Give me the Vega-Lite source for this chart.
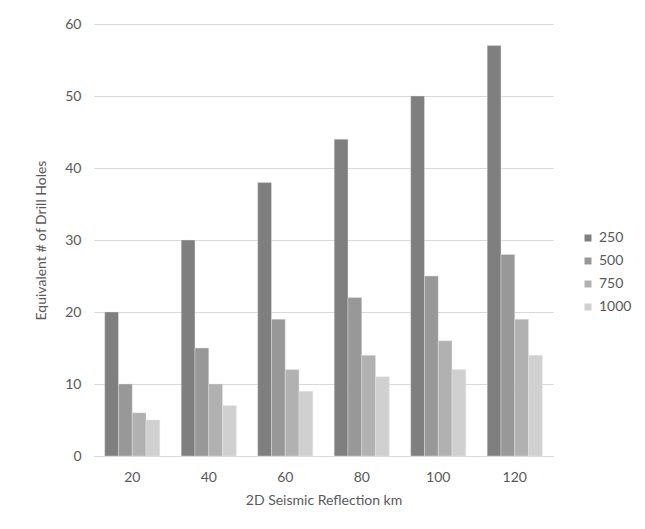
{
  "$schema": "https://vega.github.io/schema/vega-lite/v6.json",
  "autosize": {"type": "none"},
  "width": 459,
  "height": 432,
  "padding": {"left": 94, "top": 24, "right": 92, "bottom": 73},
  "background": "white",
  "data": {"values": [
    {"km": 20, "series": "250", "holes": 20}, {"km": 20, "series": "500", "holes": 10}, {"km": 20, "series": "750", "holes": 6}, {"km": 20, "series": "1000", "holes": 5},
    {"km": 40, "series": "250", "holes": 30}, {"km": 40, "series": "500", "holes": 15}, {"km": 40, "series": "750", "holes": 10}, {"km": 40, "series": "1000", "holes": 7},
    {"km": 60, "series": "250", "holes": 38}, {"km": 60, "series": "500", "holes": 19}, {"km": 60, "series": "750", "holes": 12}, {"km": 60, "series": "1000", "holes": 9},
    {"km": 80, "series": "250", "holes": 44}, {"km": 80, "series": "500", "holes": 22}, {"km": 80, "series": "750", "holes": 14}, {"km": 80, "series": "1000", "holes": 11},
    {"km": 100, "series": "250", "holes": 50}, {"km": 100, "series": "500", "holes": 25}, {"km": 100, "series": "750", "holes": 16}, {"km": 100, "series": "1000", "holes": 12},
    {"km": 120, "series": "250", "holes": 57}, {"km": 120, "series": "500", "holes": 28}, {"km": 120, "series": "750", "holes": 19}, {"km": 120, "series": "1000", "holes": 14}
  ]},
  "mark": {"type": "bar", "strokeWidth": 0.8, "strokeOpacity": 0.5, "stroke": "#e8e8e8"},
  "encoding": {
    "x": {
      "field": "km", "type": "ordinal", "sort": [20, 40, 60, 80, 100, 120],
      "scale": {"paddingInner": 0.28, "paddingOuter": 0.14},
      "axis": {"title": "2D Seismic Reflection km", "labelAngle": 0, "ticks": false, "domain": true, "domainColor": "#d9d9d9", "labelPadding": 14, "titlePadding": 9, "labelFont": "Lato", "titleFont": "Lato", "labelFontSize": 14, "titleFontSize": 14, "labelColor": "#595959", "titleColor": "#595959", "titleFontWeight": "normal"}
    },
    "y": {
      "field": "holes", "type": "quantitative",
      "scale": {"domain": [0, 60]},
      "axis": {"title": "Equivalent # of Drill Holes", "values": [0, 10, 20, 30, 40, 50, 60], "ticks": false, "domain": false, "grid": true, "gridColor": "#d9d9d9", "gridWidth": 1, "labelPadding": 13, "titlePadding": 16, "labelFont": "Lato", "titleFont": "Lato", "labelFontSize": 14, "titleFontSize": 14, "labelColor": "#595959", "titleColor": "#595959", "titleFontWeight": "normal"}
    },
    "xOffset": {"field": "series", "type": "nominal", "sort": ["250", "500", "750", "1000"]},
    "color": {
      "field": "series", "type": "nominal", "sort": ["250", "500", "750", "1000"],
      "scale": {"domain": ["250", "500", "750", "1000"], "range": ["#7f7f7f", "#989898", "#b1b1b1", "#d0d0d0"]},
      "legend": {"title": null, "orient": "none", "legendX": 487, "legendY": 207, "symbolType": "square", "symbolSize": 49, "symbolStrokeWidth": 0, "labelFont": "Lato", "labelFontSize": 14, "labelColor": "#595959", "rowPadding": 9, "labelOffset": 4}
    }
  },
  "config": {"view": {"stroke": null}}
}
